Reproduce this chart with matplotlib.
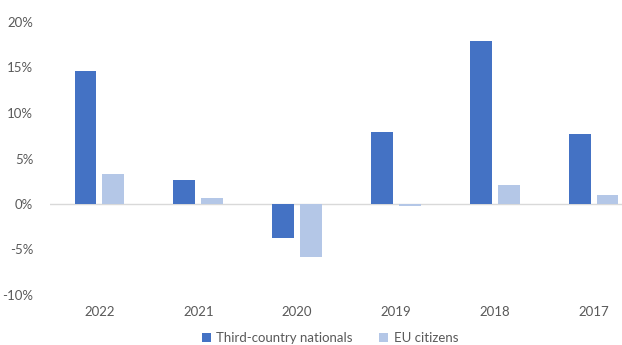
import matplotlib
matplotlib.use("Agg")
import matplotlib.pyplot as plt
import numpy as np

years = ["2022", "2021", "2020", "2019", "2018", "2017"]
third_country = [14.6, 2.6, -3.7, 7.9, 17.9, 7.7]
eu_citizens = [3.3, 0.7, -5.8, -0.2, 2.1, 1.0]
yticks = [-10, -5, 0, 5, 10, 15, 20]

plt.rcParams['font.family'] = ['Lato', 'DejaVu Sans']
text_color = '#595959'

fig = plt.figure(figsize=(6.22, 3.45), dpi=100)
ax = fig.add_axes([50/622, 1-295/345, (643-50)/622, (295-22)/345])

x = np.arange(len(years))
w = 0.222
off = 0.141
ax.bar(x - off, third_country, width=w, color='#4472C4', label='Third-country nationals')
ax.bar(x + off, eu_citizens, width=w, color='#B4C7E7', label='EU citizens')

ax.set_xlim(-0.5, len(years) - 0.5)
ax.set_ylim(-10, 20)
ax.set_yticks(yticks)
ax.set_yticklabels([f"{v}%" for v in yticks], color=text_color, fontsize=9.5)
ax.set_xticks(x)
ax.set_xticklabels(years, color=text_color, fontsize=9.5)
ax.tick_params(axis='both', length=0)
ax.tick_params(axis='x', pad=8)
ax.tick_params(axis='y', pad=12)
for s in ax.spines.values():
    s.set_visible(False)
ax.axhline(0, color='#d9d9d9', lw=1, zorder=0)

leg = fig.legend(loc='center', bbox_to_anchor=(330/622, 1-338/345), ncol=2, frameon=False,
                 fontsize=9.5, handlelength=0.7, handleheight=0.7, handletextpad=0.4,
                 columnspacing=2.0)
for t in leg.get_texts():
    t.set_color(text_color)

fig.savefig("out.png", dpi=100)
